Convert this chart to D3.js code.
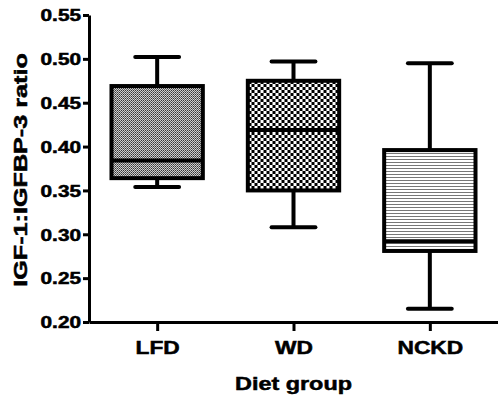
<!DOCTYPE html>
<html>
<head>
<meta charset="utf-8">
<script src="https://cdn.jsdelivr.net/npm/d3@7"></script>
<style>
  body { margin: 0; background: #fff; }
  svg text { font-family: "Liberation Sans", Arial, sans-serif; font-weight: bold; fill: #000; stroke: #000; stroke-width: 0.5px; }
</style>
</head>
<body>
<svg id="chart" width="498" height="400"></svg>
<script>
var categories = ['LFD', 'WD', 'NCKD'];
var whiskerLow = [0.354, 0.308, 0.215];
var q1 = [0.364, 0.350, 0.281];
var median = [0.384, 0.419, 0.292];
var q3 = [0.469, 0.475, 0.396];
var whiskerHigh = [0.502, 0.497, 0.495];
var patterns = ['dots', 'checks', 'stripes'];
var yTicks = [0.20, 0.25, 0.30, 0.35, 0.40, 0.45, 0.50, 0.55];

var svg = d3.select('#chart');
var plotLeft = 89, plotRight = 498, plotTop = 15, plotBottom = 322;
var stretch = 1.3;

var x = d3.scalePoint().domain(categories).range([plotLeft, plotRight]).padding(0.5);
var y = d3.scaleLinear().domain([0.20, 0.55]).range([plotBottom, plotTop]);
var boxWidth = x.step() * 0.67;
var capWidth = boxWidth * 0.48;

// fill patterns
var defs = svg.append('defs');
var p1 = defs.append('pattern').attr('id', 'dots')
    .attr('width', 2).attr('height', 2).attr('patternUnits', 'userSpaceOnUse');
p1.append('rect').attr('width', 2).attr('height', 2).attr('fill', '#eee');
p1.append('rect').attr('width', 1).attr('height', 1).attr('fill', '#111');
p1.append('rect').attr('x', 1).attr('y', 1).attr('width', 1).attr('height', 1).attr('fill', '#444');

var p2 = defs.append('pattern').attr('id', 'checks')
    .attr('width', 6).attr('height', 6).attr('patternUnits', 'userSpaceOnUse');
p2.append('rect').attr('width', 6).attr('height', 6).attr('fill', '#fff');
p2.append('rect').attr('width', 3).attr('height', 3).attr('fill', '#000');
p2.append('rect').attr('x', 3).attr('y', 3).attr('width', 3).attr('height', 3).attr('fill', '#000');

var p3 = defs.append('pattern').attr('id', 'stripes')
    .attr('width', 4).attr('height', 3).attr('patternUnits', 'userSpaceOnUse');
p3.append('rect').attr('width', 4).attr('height', 3).attr('fill', '#fff');
p3.append('rect').attr('width', 4).attr('height', 1).attr('fill', '#777');

var data = categories.map(function (c, i) {
    return { name: c, lo: whiskerLow[i], q1: q1[i], med: median[i], q3: q3[i], hi: whiskerHigh[i], pat: patterns[i] };
});

// axes
var yAxis = svg.append('g')
    .attr('transform', 'translate(' + plotLeft + ',0)')
    .call(d3.axisLeft(y).tickValues(yTicks).tickFormat(d3.format('.2f')).tickSize(6).tickSizeOuter(0));
yAxis.select('.domain').attr('stroke-width', 3);
yAxis.selectAll('.tick line').attr('stroke-width', 3);
yAxis.selectAll('.tick text')
    .attr('font-size', 16)
    .attr('x', -8 / stretch)
    .attr('dy', '0.36em')
    .attr('transform', 'scale(' + stretch + ',1)');

var xAxis = svg.append('g')
    .attr('transform', 'translate(0,' + plotBottom + ')')
    .call(d3.axisBottom(x).tickSize(9).tickSizeOuter(0));
xAxis.select('.domain').attr('stroke-width', 3);
xAxis.selectAll('.tick line').attr('stroke-width', 3);
xAxis.selectAll('.tick text')
    .attr('font-size', 17.5)
    .attr('y', 32)
    .attr('dy', 0)
    .attr('transform', 'scale(' + stretch + ',1)');

// boxes
var g = svg.selectAll('g.box')
    .data(data)
    .enter()
    .append('g')
    .attr('class', 'box')
    .attr('transform', function (d) { return 'translate(' + x(d.name) + ',0)'; });

g.append('line')
    .attr('x1', 0).attr('x2', 0)
    .attr('y1', function (d) { return y(d.hi); })
    .attr('y2', function (d) { return y(d.lo); })
    .attr('stroke', '#000').attr('stroke-width', 4);

g.selectAll('line.cap')
    .data(function (d) { return [d.hi, d.lo]; })
    .enter()
    .append('line')
    .attr('class', 'cap')
    .attr('x1', -capWidth / 2).attr('x2', capWidth / 2)
    .attr('y1', function (d) { return y(d); })
    .attr('y2', function (d) { return y(d); })
    .attr('stroke', '#000').attr('stroke-width', 4).attr('stroke-linecap', 'round');

g.append('rect')
    .attr('x', -boxWidth / 2)
    .attr('width', boxWidth)
    .attr('y', function (d) { return y(d.q3); })
    .attr('height', function (d) { return y(d.q1) - y(d.q3); })
    .attr('fill', function (d) { return 'url(#' + d.pat + ')'; })
    .attr('stroke', '#000').attr('stroke-width', 4);

g.append('line')
    .attr('x1', -boxWidth / 2).attr('x2', boxWidth / 2)
    .attr('y1', function (d) { return y(d.med); })
    .attr('y2', function (d) { return y(d.med); })
    .attr('stroke', '#000').attr('stroke-width', 4);

// titles
svg.append('text')
    .attr('text-anchor', 'middle')
    .attr('font-size', 18)
    .attr('transform', 'translate(' + (plotLeft + plotRight) / 2 + ',390) scale(' + stretch + ',1)')
    .text('Diet group');

svg.append('text')
    .attr('text-anchor', 'middle')
    .attr('font-size', 18)
    .attr('transform', 'translate(27,170) rotate(-90) scale(1.4,1)')
    .text('IGF-1:IGFBP-3 ratio');
</script>
</body>
</html>
